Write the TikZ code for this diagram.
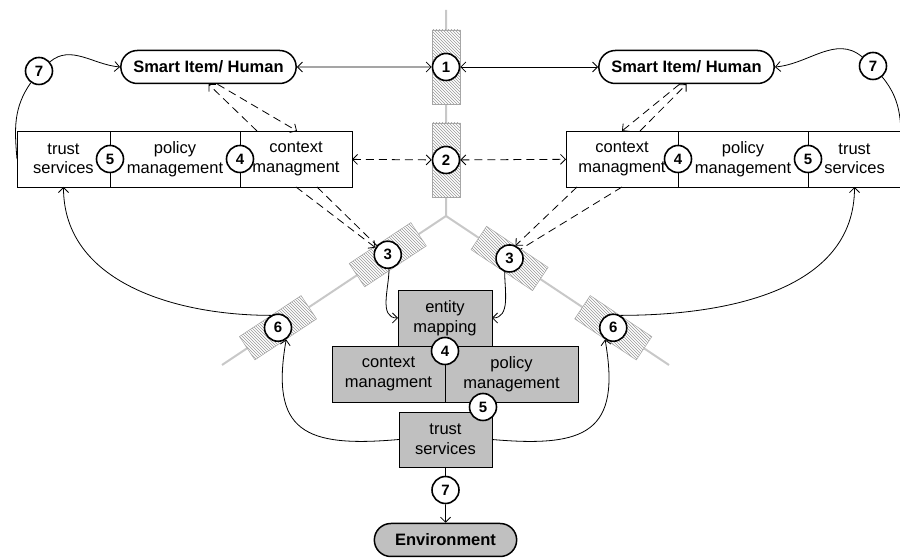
\documentclass[tikz,border=0pt]{standalone}
\usepackage{fontspec}
\setmainfont{Liberation Sans}
\usetikzlibrary{positioning,shapes.misc,patterns,arrows.meta}
\definecolor{boxgray}{RGB}{192,192,192}
\definecolor{linegray}{RGB}{200,200,200}
\newcommand{\cellfont}{\fontsize{16.5}{19.5}\selectfont}
\tikzset{
	num/.style={circle,draw,line width=1.6pt,fill=white,inner sep=0pt,minimum size=27pt,font=\bfseries\fontsize{15}{15}\selectfont},
	actor/.style={rounded rectangle,draw,line width=1.5pt,minimum width=182pt,minimum height=33pt,font=\bfseries\fontsize{16.5}{18}\selectfont},
	cell/.style={draw,line width=0.8pt,outer sep=0pt,inner sep=0pt,minimum height=56pt,align=center,font=\cellfont},
	gcell/.style={cell,fill=boxgray},
	hatch/.style={draw=gray!70,line width=0.5pt,preaction={fill=white},pattern=north west lines,pattern color=gray!80,minimum width=74pt,minimum height=28pt,inner sep=0pt},
	gline/.style={draw=linegray,line width=2pt},
	dsh/.style={dash pattern=on 8pt off 5pt}
}
\begin{document}
\begin{tikzpicture}[x=1pt,y=1pt,>={Straight Barb[length=5pt,width=10pt]},line width=0.8pt]
	\useasboundingbox (0,0) rectangle (900,559);
	\coordinate (fork) at (446,343);
	\coordinate (lend) at (222,194);
	\coordinate (rend) at (669,194);
	\draw[gline] (446,549) -- (fork) -- (lend);
	\draw[gline] (fork) -- (rend);
	\path (fork) -- (lend) coordinate[pos=0.26] (l3) coordinate[pos=0.75] (l6);
	\path (fork) -- (rend) coordinate[pos=0.285] (r3) coordinate[pos=0.75] (r6);
	\node[hatch,rotate=90] (h1) at (446,492) {};
	\node[hatch,rotate=90] (h2) at (446,399) {};
	\node[hatch,rotate=33.6] (h3l) at (l3) {};
	\node[hatch,rotate=33.6] (h6l) at (l6) {};
	\node[hatch,rotate=-33.7] (h3r) at (r3) {};
	\node[hatch,rotate=-33.7] (h6r) at (r6) {};

	\node[actor] (lsh) at (208.5,492) {Smart Item/ Human};
	\node[actor] (rsh) at (686.5,492) {Smart Item/ Human};

	\node[cell,minimum width=93pt,anchor=west] (lts) at (17,400) {trust\\services};
	\node[cell,minimum width=130pt,right=0pt of lts] (lpm) {policy\\management};
	\node[cell,minimum width=112pt,right=0pt of lpm] (lcx) {context\\managment};
	\node[cell,minimum width=112pt,anchor=west] (rcx) at (566,400) {context\\managment};
	\node[cell,minimum width=130pt,right=0pt of rcx] (rpm) {policy\\management};
	\node[cell,minimum width=93pt,right=0pt of rpm] (rts) {trust\\services};

	\node[gcell,minimum width=94pt] (ent) at (445,241) {entity\\mapping};
	\node[gcell,minimum width=113pt,anchor=north east] (bcx) at (ent.south) {context\\managment};
	\node[gcell,minimum width=133pt,anchor=north west] (bpm) at (ent.south) {policy\\management};
	\node[gcell,minimum width=93pt,minimum height=55pt] (tsb) at (445.5,119.5) {trust\\services};
	\node[actor,fill=boxgray,minimum width=149pt] (env) at (445.5,19) {Environment};

	\node[num] (c1) at (h1) {1};
	\node[num] (c2) at (h2) {2};
	\node[num] (c3l) at (l3) {3};
	\node[num] (c3r) at (r3) {3};
	\node[num] (c6l) at (l6) {6};
	\node[num] (c6r) at (r6) {6};
	\node[num] (c5l) at (lpm.west) {5};
	\node[num] (c4l) at (lcx.west) {4};
	\node[num] (c4r) at (rpm.west) {4};
	\node[num] (c5r) at (rts.west) {5};
	\node[num] (c4b) at ([yshift=-5pt]ent.south) {4};
	\node[num] (c5b) at (483,152) {5};
	\node[num] (c7b) at (445.5,69) {7};
	\node[num] (c7l) at (39,488) {7};
	\node[num] (c7r) at (873,493) {7};

	\draw[<->] (lsh) -- (c1);
	\draw[<->] (c1) -- (rsh);
	\draw[<->,dsh] (lcx) -- (c2);
	\draw[<->,dsh] (c2) -- (rcx);
	\draw[->,dsh] ([xshift=-39pt]lcx.north) -- (lsh.south);
	\draw[->,dsh] ([xshift=9pt]lsh.south) -- ([xshift=1pt]lcx.north);
	\draw[->,dsh] ([xshift=18pt]rcx.north) -- (rsh.south);
	\draw[->,dsh] ([xshift=-7pt]rsh.south) -- (rcx.north);
	\draw[->,dsh] (lcx.south) -- (c3l.150);
	\draw[dsh] ([xshift=21pt]lcx.south) -- (c3l.140);
	\draw[->,dsh] ([xshift=-45pt]rcx.south) -- (c3r.65);
	\draw[dsh] (rcx.south) -- (c3r.40);
	\draw[->] (c3l.-85) to[out=-90,in=180] (ent.west);
	\draw[->] (c3r.-110) to[out=-90,in=0] (ent.east);
	\draw[->] (c6l.120) to[out=180,in=-90] (lts.south);
	\draw[->] (c6r.60) to[out=0,in=-90] (rts.south);
	\draw[->] (tsb.west) to[out=185,in=-100,looseness=1.6] (c6l.-55);
	\draw[->] (tsb.east) to[out=-5,in=-80,looseness=1.6] (c6r.-125);
	\draw (lts.west) to[out=95,in=235] (c7l);
	\draw[->] (c7l) to[out=40,in=175] (lsh.west);
	\draw (c7r) to[out=-50,in=90] (rts.east);
	\draw[->] (c7r) to[out=140,in=5] (rsh.east);
	\draw (tsb) -- (c7b);
	\draw[->] (c7b) -- (env);
\end{tikzpicture}
\end{document}
